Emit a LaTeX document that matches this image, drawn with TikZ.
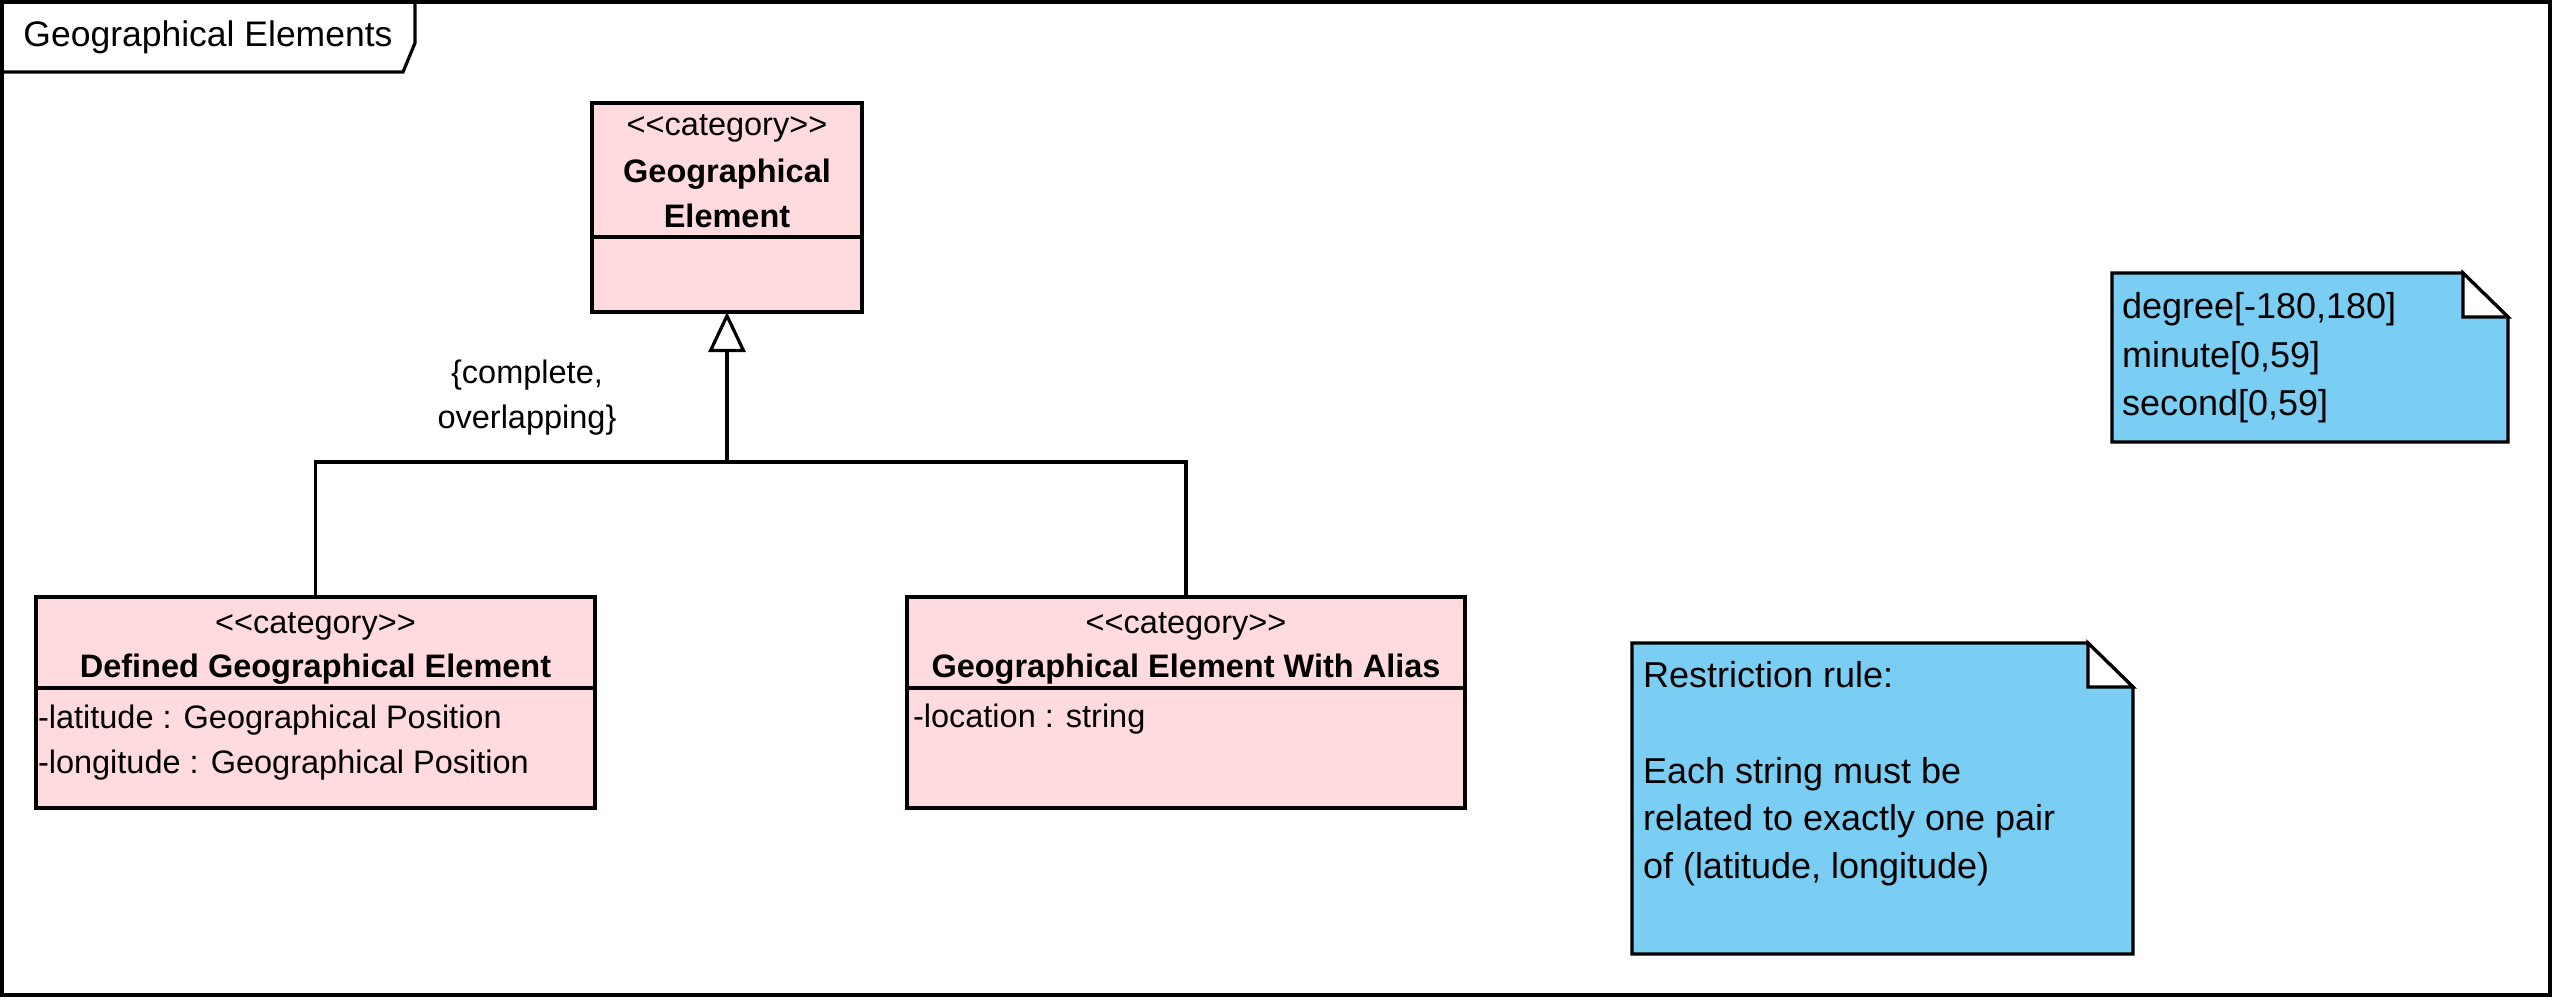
\documentclass[tikz,border=0pt]{standalone}
\usepackage{fontspec}
\setmainfont{Liberation Sans}
\usetikzlibrary{arrows.meta}
\definecolor{classPink}{RGB}{255,219,223}
\definecolor{noteBlue}{RGB}{122,206,244}
\newcommand{\catlabel}{<\kern0pt<category>\kern0pt>}

\begin{document}
\begin{tikzpicture}[x=1pt, y=-1pt, line width=3.2pt,
  classbox/.style={draw, fill=classPink, anchor=north west, inner sep=0pt, outer sep=0pt},
  txt/.style={inner sep=0pt, outer sep=0pt},
  classfont/.style={txt, font=\fontsize{32.5}{39}\selectfont},
  classbold/.style={txt, font=\fontsize{32.5}{39}\selectfont\bfseries},
  notefont/.style={txt, anchor=base west, font=\fontsize{36}{43}\selectfont},
  notebody/.style={draw, fill=noteBlue},
  gen/.style={-{Triangle[open, length=40pt, width=37pt]}}
]
  \useasboundingbox (0,0) rectangle (2553,999);

  % Draw frame and its tab
  \draw (2,2) rectangle (2550,995);
  \draw (2,72) -- (403,72) -- (415,43) -- (415,2);
  \node[txt, anchor=base, font=\fontsize{35.5}{42}\selectfont] (FrameTitle) at (208,46) {Geographical Elements};

  % Top class
  \node[classbox, minimum width=270pt, minimum height=209pt] (GeoElem) at (592,103) {};
  \draw (GeoElem.north west) ++(0,134) -- ++(270,0);
  \node[classfont, anchor=base] (GeoStereo) at (727,135) {\catlabel};
  \node[classbold, anchor=base] (GeoName1) at (727,182) {Geographical};
  \node[classbold, anchor=base] (GeoName2) at (727,227) {Element};

  % Bottom left class
  \node[classbox, minimum width=559pt, minimum height=211pt] (DefElem) at (36,597) {};
  \draw (DefElem.north west) ++(0,91) -- ++(559,0);
  \node[classfont, anchor=base] (DefStereo) at (315.5,633) {\catlabel};
  \node[classbold, anchor=base] (DefName) at (315.5,677) {Defined Geographical Element};
  \node[classfont, anchor=base west] (DefAttr1) at (38,728) {-latitude : Geographical Position};
  \node[classfont, anchor=base west] (DefAttr2) at (38,773) {-longitude : Geographical Position};

  % Bottom right class
  \node[classbox, minimum width=558pt, minimum height=211pt] (AliasElem) at (907,597) {};
  \draw (AliasElem.north west) ++(0,91) -- ++(558,0);
  \node[classfont, anchor=base] (AliasStereo) at (1186,633) {\catlabel};
  \node[classbold, anchor=base] (AliasName) at (1186,677) {Geographical Element With Alias};
  \node[classfont, anchor=base west] (AliasAttr) at (913,727) {-location : string};

  % Generalization set
  \coordinate (Split) at (727,462);
  \draw[gen] (DefElem.north) |- (Split) -- (GeoElem.south);
  \draw (AliasElem.north) |- (Split);
  \node[classfont, anchor=base] (GenSet1) at (527,383) {\{complete,};
  \node[classfont, anchor=base] (GenSet2) at (527,428) {overlapping\}};

  % Note on degrees
  \filldraw[notebody] (2112,273) -- (2463,273) -- (2508,317) -- (2508,442) -- (2112,442) -- cycle;
  \filldraw[fill=white] (2463,273) -- (2463,317) -- (2508,317) -- cycle;
  \node[notefont] (DegLine1) at (2122,318) {degree[-180,180]};
  \node[notefont] (DegLine2) at (2122,367) {minute[0,59]};
  \node[notefont] (DegLine3) at (2122,415) {second[0,59]};

  % Note on restriction rule
  \filldraw[notebody] (1632,643) -- (2088,643) -- (2133,687) -- (2133,954) -- (1632,954) -- cycle;
  \filldraw[fill=white] (2088,643) -- (2088,687) -- (2133,687) -- cycle;
  \node[notefont] (RuleLine1) at (1643,687) {Restriction rule:};
  \node[notefont] (RuleLine2) at (1643,783) {Each string must be};
  \node[notefont] (RuleLine3) at (1643,830) {related to exactly one pair};
  \node[notefont] (RuleLine4) at (1643,878) {of (latitude, longitude)};
\end{tikzpicture}
\end{document}
